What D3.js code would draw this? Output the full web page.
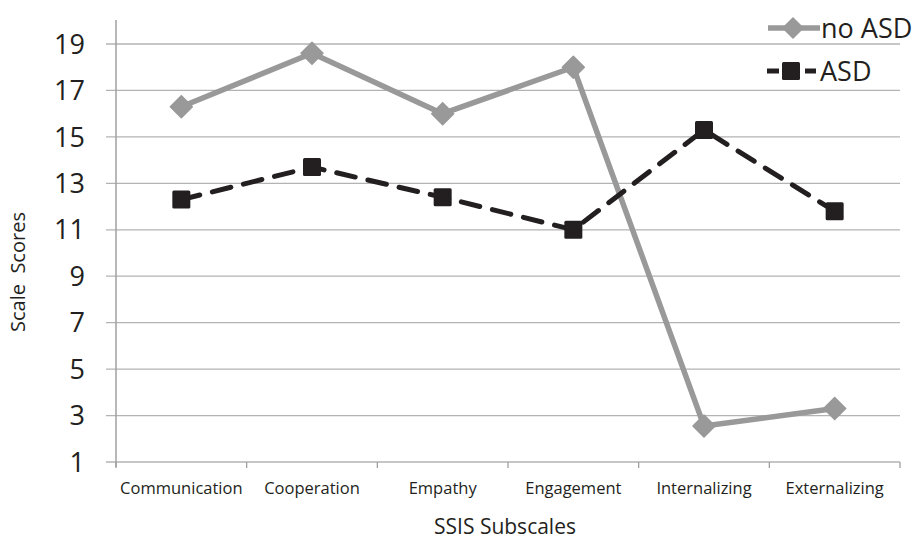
<!DOCTYPE html>
<html>
<head>
<meta charset="utf-8">
<script src="https://cdn.jsdelivr.net/npm/d3@7"></script>
<style>
  body { margin: 0; background: #fff; }
  svg { display: block; font-family: "Open Sans", "Noto Sans", sans-serif; }
</style>
</head>
<body>
<svg id="chart" width="919" height="541"></svg>
<script>
const categories = ["Communication", "Cooperation", "Empathy", "Engagement", "Internalizing", "Externalizing"];
const noASD = [16.3, 18.6, 16.0, 18.0, 2.55, 3.3];
const asd = [12.3, 13.7, 12.4, 11.0, 15.3, 11.8];
const yTicks = [1, 3, 5, 7, 9, 11, 13, 15, 17, 19];
const seriesNames = ["no ASD", "ASD"];

const svg = d3.select("#chart");
const margin = { left: 116, right: 19, top: 44, bottom: 79 };
const W = 919, H = 541;

const x = d3.scaleBand().domain(categories).range([margin.left, W - margin.right]).padding(0);
const y = d3.scaleLinear().domain([1, 19]).range([H - margin.bottom, margin.top]);

// horizontal gridlines
svg.append("g").selectAll("line").data(yTicks).join("line")
  .attr("x1", margin.left - 10).attr("x2", W - margin.right)
  .attr("y1", d => y(d)).attr("y2", d => y(d))
  .attr("stroke", "#b3b3b3").attr("stroke-width", 1.3);

// y axis line
svg.append("line")
  .attr("x1", margin.left).attr("x2", margin.left)
  .attr("y1", 20).attr("y2", y(1) + 5)
  .attr("stroke", "#a0a0a0").attr("stroke-width", 1.5);

// y tick labels
svg.append("g").selectAll("text").data(yTicks).join("text")
  .attr("x", 85).attr("y", d => y(d))
  .attr("dy", "0.36em")
  .attr("text-anchor", "end")
  .attr("font-size", 27)
  .attr("fill", "#231f20")
  .text(d => d);

// x axis with category-boundary ticks
const bounds = categories.map(c => x(c)).concat([x.range()[1]]);
svg.append("g").selectAll("line").data(bounds).join("line")
  .attr("x1", d => d).attr("x2", d => d)
  .attr("y1", y(1)).attr("y2", y(1) + 6)
  .attr("stroke", "#a0a0a0").attr("stroke-width", 1.3);

svg.append("g").selectAll("text").data(categories).join("text")
  .attr("x", d => x(d) + x.bandwidth() / 2)
  .attr("y", 494)
  .attr("text-anchor", "middle")
  .attr("font-size", 16.5)
  .attr("fill", "#231f20")
  .text(d => d);

// axis titles
svg.append("text")
  .attr("x", 505).attr("y", 534)
  .attr("text-anchor", "middle").attr("font-size", 21).attr("fill", "#231f20")
  .text("SSIS Subscales");

svg.append("text")
  .attr("transform", "translate(25,272) rotate(-90)")
  .attr("text-anchor", "middle").attr("font-size", 20).attr("fill", "#231f20")
  .attr("xml:space", "preserve").style("white-space", "pre")
  .text("Scale  Scores");

const cx = c => x(c) + x.bandwidth() / 2;
const line = d3.line().x(d => cx(d.c)).y(d => y(d.v));

const noData = categories.map((c, i) => ({ c, v: noASD[i] }));
const asdData = categories.map((c, i) => ({ c, v: asd[i] }));

const grey = "#999999", dark = "#231f20";

// no ASD series
svg.append("path").datum(noData)
  .attr("d", line).attr("fill", "none")
  .attr("stroke", grey).attr("stroke-width", 5.5).attr("stroke-linejoin", "round");

const diamond = (g, px, py, s) => g.append("path")
  .attr("d", `M${px},${py - s}L${px + s},${py}L${px},${py + s}L${px - s},${py}Z`)
  .attr("fill", grey).attr("stroke", grey).attr("stroke-width", 1.5).attr("stroke-linejoin", "round");

const gNo = svg.append("g");
noData.forEach(d => diamond(gNo, cx(d.c), y(d.v), 11));

// ASD series
svg.append("path").datum(asdData)
  .attr("d", line).attr("fill", "none")
  .attr("stroke", dark).attr("stroke-width", 5).attr("stroke-dasharray", "19,13")
  .attr("stroke-linecap", "round");

const square = (g, px, py, s) => g.append("rect")
  .attr("x", px - s).attr("y", py - s).attr("width", 2 * s).attr("height", 2 * s)
  .attr("fill", dark).attr("rx", 1.5);

const gA = svg.append("g");
asdData.forEach(d => square(gA, cx(d.c), y(d.v), 9));

// legend
const lg = svg.append("g");
lg.append("line").attr("x1", 768).attr("x2", 820).attr("y1", 28).attr("y2", 28)
  .attr("stroke", grey).attr("stroke-width", 5.5);
diamond(lg, 793, 28, 10);
lg.append("text").attr("x", 821).attr("y", 28).attr("dy", "0.36em")
  .attr("font-size", 27).attr("fill", "#231f20").text(seriesNames[0]);

lg.append("line").attr("x1", 767).attr("x2", 779).attr("y1", 71).attr("y2", 71)
  .attr("stroke", dark).attr("stroke-width", 5);
lg.append("line").attr("x1", 805).attr("x2", 816).attr("y1", 71).attr("y2", 71)
  .attr("stroke", dark).attr("stroke-width", 5);
square(lg, 791, 71, 9);
lg.append("text").attr("x", 820).attr("y", 71).attr("dy", "0.36em")
  .attr("font-size", 27).attr("fill", "#231f20").text(seriesNames[1]);
</script>
</body>
</html>
